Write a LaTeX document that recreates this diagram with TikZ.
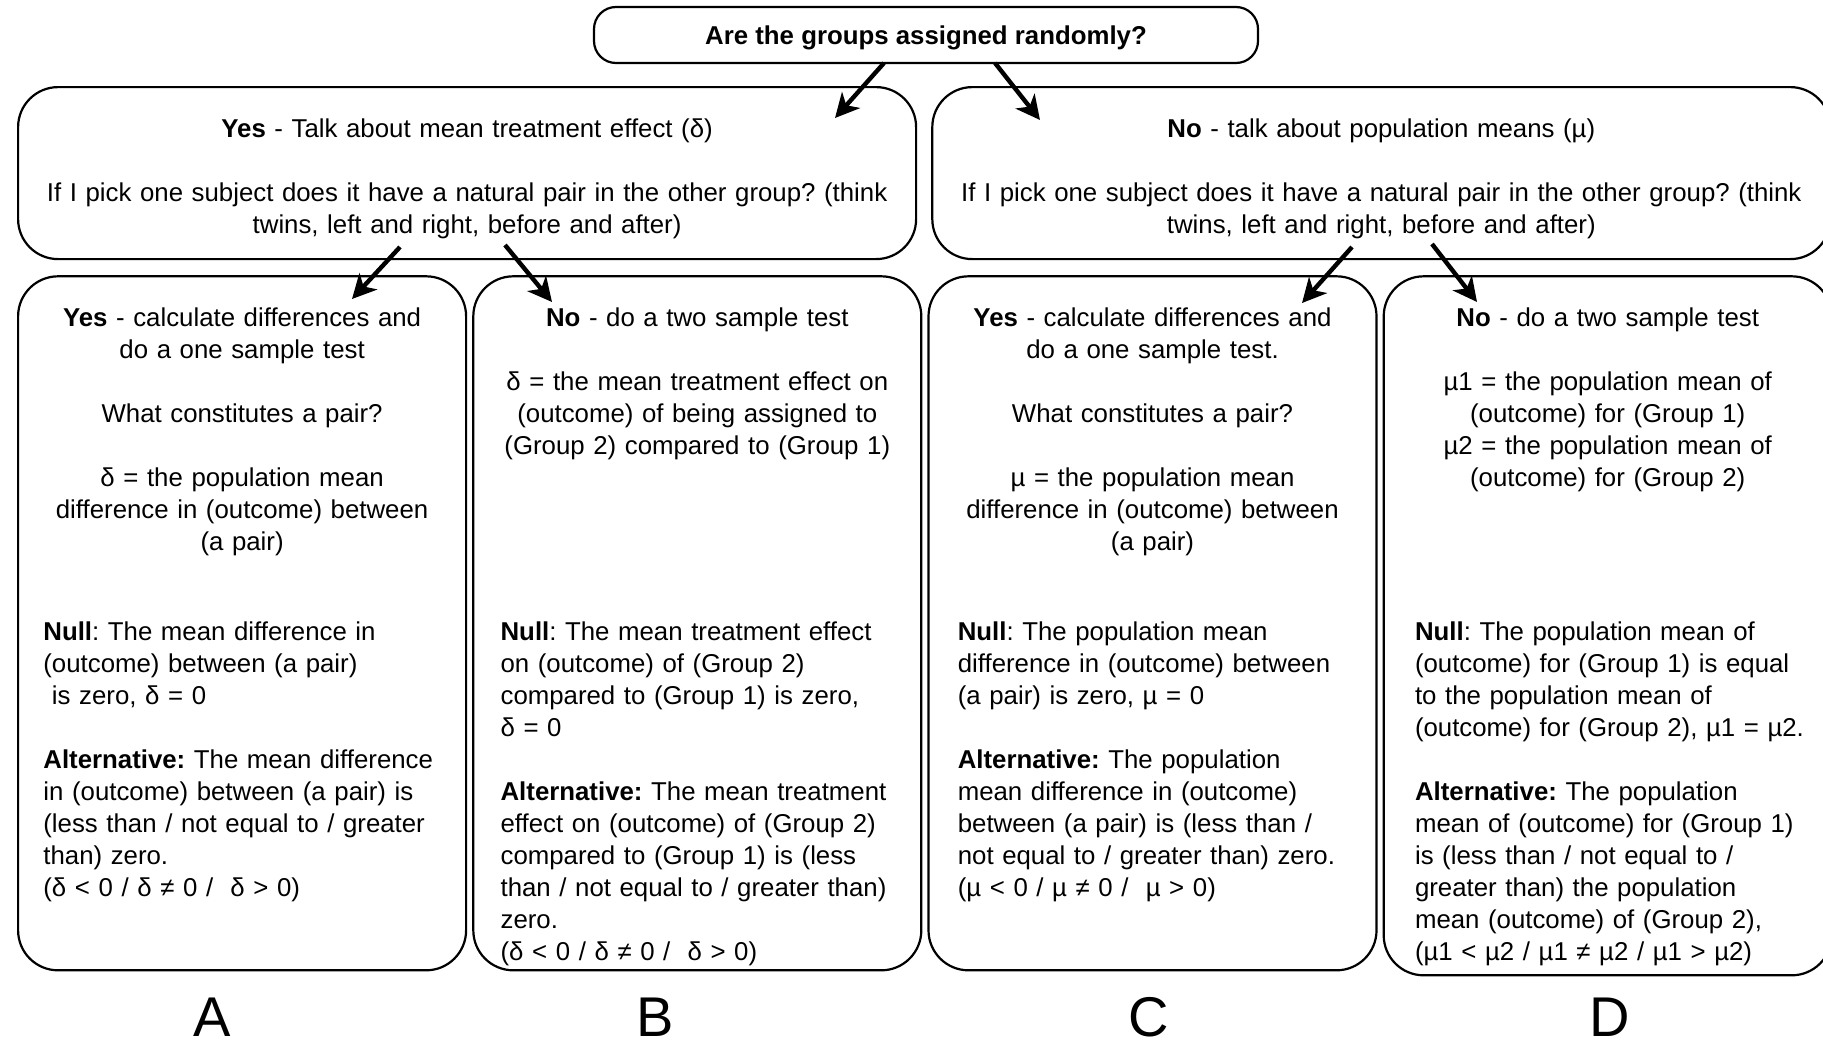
\documentclass[tikz,border=0pt]{standalone}
\usepackage{fontspec}
\setmainfont{Liberation Sans}
\usetikzlibrary{positioning}
\usetikzlibrary{arrows.meta}
\frenchspacing

\begin{document}
\begin{tikzpicture}[x=0.5pt, y=-0.5pt, node distance=0pt,
  every node/.style={font=\fontsize{12.9}{16}\selectfont, inner sep=0pt},
  box/.style={draw, line width=1.1pt, rounded corners=20pt},
  column/.style={box, minimum width=224pt, minimum height=347pt},
  head/.style={text width=215pt, align=center},
  body/.style={text width=215pt, align=left},
  letter/.style={font=\fontsize{28}{34}\selectfont},
  pick/.style={line width=2.2pt, -{Stealth[length=12pt, width=12pt, inset=3.5pt]}}]
  \useasboundingbox (0,0) rectangle (1823,1044);

  \node [box, rounded corners=11pt, minimum width=332pt, minimum height=28pt, text depth=0pt, font=\fontsize{12.9}{16}\selectfont\bfseries] (random) at (926,35) {Are the groups assigned randomly?};

  \node [box, minimum width=449pt, minimum height=86pt, anchor=north west] (yes) at (17,86) {};
  \node [box, minimum width=449pt, minimum height=86pt, right=7pt of yes] (no) {};
  \node [below=16pt of yes.north, text width=440pt, align=center] (yestext) {\textbf{Yes} - Talk about mean treatment effect (δ)\\[16pt]
    If I pick one subject does it have a natural pair in the other group? (think\\ twins, left and right, before and after)};
  \node [below=16pt of no.north, text width=440pt, align=center] (notext) {\textbf{No} - talk about population means (µ)\\[16pt]
    If I pick one subject does it have a natural pair in the other group? (think\\ twins, left and right, before and after)};

  \node [column, below=7.5pt of yes.south west, anchor=north west] (boxA) {};
  \node [column, right=2.5pt of boxA] (boxB) {};
  \node [column, right=2.5pt of boxB] (boxC) {};
  \node [column, minimum height=349.5pt, right=2.5pt of boxC.north east, anchor=north west] (boxD) {};

  \node [head, below=16pt of boxA.north] (headA) {\textbf{Yes} - calculate differences and\\ do a one sample test\\[16pt]
    What constitutes a pair?\\[16pt]
    δ = the population mean\\ difference in (outcome) between\\ (a pair)};
  \node [body, below right=173pt and 13pt of boxA.north west] (bodyA) {\textbf{Null}: The mean difference in\\ (outcome) between (a pair)\\ ~is zero, δ = 0\\[16pt]
    \textbf{Alternative:} The mean difference\\ in (outcome) between (a pair) is\\ (less than / not equal to / greater\\ than) zero.\\ (δ < 0 / δ ≠ 0 /~~δ > 0)};

  \node [head, below=16pt of boxB.north] (headB) {\textbf{No} - do a two sample test\\[16pt]
    δ = the mean treatment effect on\\ (outcome) of being assigned to\\ (Group 2) compared to (Group 1)};
  \node [body, below right=173pt and 14pt of boxB.north west] (bodyB) {\textbf{Null}: The mean treatment effect\\ on (outcome) of (Group 2)\\ compared to (Group 1) is zero,\\ δ = 0\\[16pt]
    \textbf{Alternative:} The mean treatment\\ effect on (outcome) of (Group 2)\\ compared to (Group 1) is (less\\ than / not equal to / greater than)\\ zero.\\ (δ < 0 / δ ≠ 0 /~~δ > 0)};

  \node [head, below=16pt of boxC.north] (headC) {\textbf{Yes} - calculate differences and\\ do a one sample test.\\[16pt]
    What constitutes a pair?\\[16pt]
    µ = the population mean\\ difference in (outcome) between\\ (a pair)};
  \node [body, below right=173pt and 15pt of boxC.north west] (bodyC) {\textbf{Null}: The population mean\\ difference in (outcome) between\\ (a pair) is zero, µ = 0\\[16pt]
    \textbf{Alternative:} The population\\ mean difference in (outcome)\\ between (a pair) is (less than /\\ not equal to / greater than) zero.\\ (µ < 0 / µ ≠ 0 /~~µ > 0)};

  \node [head, below=16pt of boxD.north] (headD) {\textbf{No} - do a two sample test\\[16pt]
    µ1 = the population mean of\\ (outcome) for (Group 1)\\ µ2 = the population mean of\\ (outcome) for (Group 2)};
  \node [body, below right=173pt and 16pt of boxD.north west] (bodyD) {\textbf{Null}: The population mean of\\ (outcome) for (Group 1) is equal\\ to the population mean of\\ (outcome) for (Group 2), µ1 = µ2.\\[16pt]
    \textbf{Alternative:} The population\\ mean of (outcome) for (Group 1)\\ is (less than / not equal to /\\ greater than) the population\\ mean (outcome) of (Group 2),\\ (µ1 < µ2 / µ1 ≠ µ2 / µ1 > µ2)};

  \node [letter] (markA) at (212,1017) {A};
  \node [letter] (markB) at (655,1017) {B};
  \node [letter] (markC) at (1149,1017) {C};
  \node [letter] (markD) at (1610,1017) {D};

  % arrows
  \coordinate (askYes) at (884,63);   \coordinate (inYes) at (835,118);
  \coordinate (askNo) at (995,63);    \coordinate (inNo) at (1040,120);
  \coordinate (pairA) at (400,247);   \coordinate (inA) at (352,299);
  \coordinate (pairB) at (505,245);   \coordinate (inB) at (552,302);
  \coordinate (pairC) at (1352,247);  \coordinate (inC) at (1302,303);
  \coordinate (pairD) at (1432,244);  \coordinate (inD) at (1477,302);
  \draw [pick] (askYes) -- (inYes);
  \draw [pick] (askNo) -- (inNo);
  \draw [pick] (pairA) -- (inA);
  \draw [pick] (pairB) -- (inB);
  \draw [pick] (pairC) -- (inC);
  \draw [pick] (pairD) -- (inD);
\end{tikzpicture}
\end{document}
